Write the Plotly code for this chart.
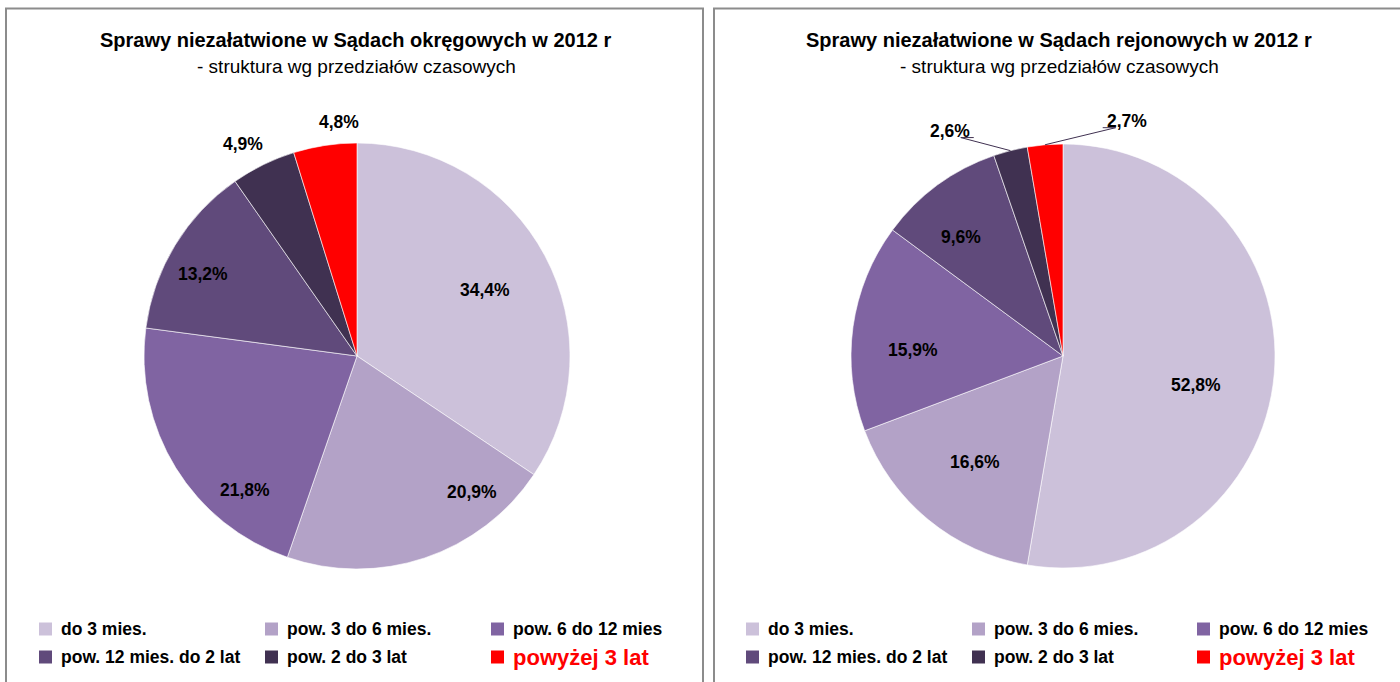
import math
import plotly.graph_objects as go

# ---------------- data ----------------
categories = ["do 3 mies.", "pow. 3 do 6 mies.", "pow. 6 do 12 mies",
              "pow. 12 mies. do 2 lat", "pow. 2 do 3 lat", "powyżej 3 lat"]
okregowe = [34.4, 20.9, 21.8, 13.2, 4.9, 4.8]
rejonowe = [52.8, 16.6, 15.9, 9.6, 2.6, 2.7]
titles = ["Sprawy niezałatwione w Sądach okręgowych w 2012 r",
          "Sprawy niezałatwione w Sądach rejonowych w 2012 r"]
subtitle = "- struktura wg przedziałów czasowych"

# ---------------- style ----------------
colors = ["#CCC1DA", "#B3A2C7", "#8064A2", "#604A7B", "#403151", "#FF0000"]
FONT = "Liberation Sans, Arial, sans-serif"
W, H = 1400, 682


def px(x):
    return x / W


def py(y):
    return 1 - y / H


pies = [
    dict(values=okregowe, title=titles[0], cx=357, cy=356, r=213, box=(6, 703),
         title_x=356, legend_x=[39, 265, 491],
         lab_off=[0.8, -21.7, -18.4, -3.3, -2.2, 4.2],
         lab_rad=[0.676, 0.836, 0.82, 0.82, 1.13, 1.10],
         leader=[False] * 6),
    dict(values=rejonowe, title=titles[1], cx=1063, cy=356, r=212, box=(714, 1420),
         title_x=1059, legend_x=[746, 972, 1197],
         lab_off=[7.4, -0.1, -5.6, -4.1, -12.3, 20.0],
         lab_rad=[0.64, 0.65, 0.71, 0.74, 1.19, 1.15],
         leader=[False, False, False, False, True, True]),
]

legend_rows = [629, 657]

fig = go.Figure()
shapes = []
annotations = []

for p in pies:
    cx, cy, r = p["cx"], p["cy"], p["r"]
    fig.add_trace(go.Pie(
        values=p["values"], labels=categories, sort=False,
        direction="clockwise", rotation=0, textinfo="none",
        marker=dict(colors=colors, line=dict(color="white", width=0.6)),
        domain=dict(x=[px(cx - r), px(cx + r)], y=[py(cy + r), py(cy - r)]),
        showlegend=False, hoverinfo="label+percent",
    ))
    # frame
    shapes.append(dict(type="rect", xref="paper", yref="paper",
                       x0=px(p["box"][0]), x1=px(p["box"][1]),
                       y0=-0.05, y1=py(8.5),
                       line=dict(color="#8C8C8C", width=2)))
    # titles
    annotations.append(dict(text="<b>" + p["title"] + "</b>", x=px(p["title_x"]), y=py(40),
                            xref="paper", yref="paper", xanchor="center", yanchor="middle",
                            showarrow=False, font=dict(family=FONT, size=20, color="black")))
    annotations.append(dict(text=subtitle, x=px(p["title_x"]), y=py(66),
                            xref="paper", yref="paper", xanchor="center", yanchor="middle",
                            showarrow=False, font=dict(family=FONT, size=19, color="black")))
    # data labels
    total = sum(p["values"])
    cum = 0.0
    for i, v in enumerate(p["values"]):
        a0 = cum / total * 360
        cum += v
        a1 = cum / total * 360
        mid = (a0 + a1) / 2
        ang = math.radians(mid + p["lab_off"][i])
        d = p["lab_rad"][i] * r
        lx = cx + d * math.sin(ang)
        ly = cy - d * math.cos(ang)
        txt = f"{v:.1f}".replace(".", ",") + "%"
        annotations.append(dict(text="<b>" + txt + "</b>", x=px(lx), y=py(ly),
                                xref="paper", yref="paper", xanchor="center", yanchor="middle",
                                showarrow=False, font=dict(family=FONT, size=17.5, color="black")))
        if p["leader"][i]:
            m = math.radians(mid)
            sx = cx + r * math.sin(m)
            sy = cy - r * math.cos(m)
            side = -1 if lx < sx else 1
            ex = lx - side * 24
            ey = ly + 7
            bx = ex + side * 13
            path = f"M {px(sx)},{py(sy)} L {px(bx)},{py(ey)} L {px(ex)},{py(ey)}"
            shapes.append(dict(type="path", xref="paper", yref="paper", path=path,
                               line=dict(color="#403151", width=1)))
    # legend
    for i, cat in enumerate(categories):
        row, col = divmod(i, 3)
        yc = legend_rows[row]
        x0 = p["legend_x"][col]
        shapes.append(dict(type="rect", xref="paper", yref="paper",
                           x0=px(x0), x1=px(x0 + 13), y0=py(yc + 6.5), y1=py(yc - 6.5),
                           fillcolor=colors[i], line=dict(width=0)))
        if i == 5:
            f = dict(family=FONT, size=22, color="#FF0000")
        else:
            f = dict(family=FONT, size=17.5, color="black")
        annotations.append(dict(text="<b>" + cat + "</b>", x=px(x0 + 20), y=py(yc),
                                xref="paper", yref="paper", xanchor="left", yanchor="middle",
                                showarrow=False, font=f))

fig.update_layout(
    width=W, height=H, margin=dict(l=0, r=0, t=0, b=0),
    paper_bgcolor="white", plot_bgcolor="white", showlegend=False,
    shapes=shapes, annotations=annotations,
)

fig.write_html("out.html", config={"displayModeBar": False},
               post_script="document.body.style.margin='0px';document.body.style.overflow='hidden';")
